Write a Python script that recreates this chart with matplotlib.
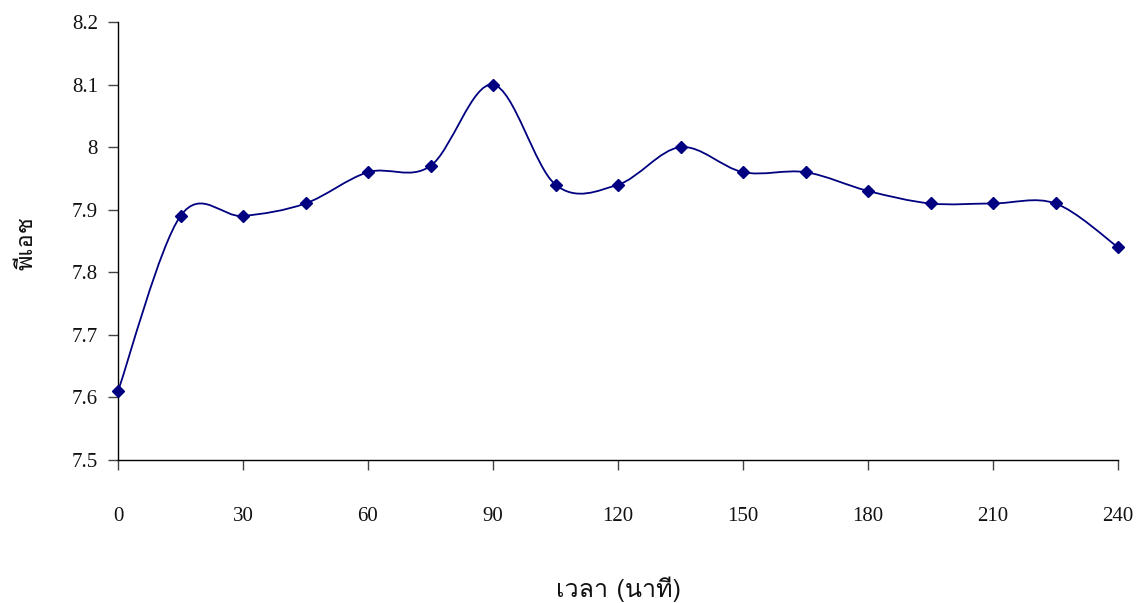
import numpy as np
import matplotlib
matplotlib.use("Agg")
import matplotlib.pyplot as plt
from matplotlib.path import Path
from matplotlib.patches import PathPatch
from matplotlib import font_manager
from matplotlib.ft2font import FT2Font

# ---- data ----
time_min = [0, 15, 30, 45, 60, 75, 90, 105, 120, 135, 150, 165, 180, 195, 210, 225, 240]
ph = [7.61, 7.89, 7.89, 7.91, 7.96, 7.97, 8.10, 7.94, 7.94, 8.00, 7.96, 7.96, 7.93, 7.91, 7.91, 7.91, 7.84]
x_ticks = [0, 30, 60, 90, 120, 150, 180, 210, 240]
y_ticks = [7.5, 7.6, 7.7, 7.8, 7.9, 8.0, 8.1, 8.2]
y_ticklabels = ["7.5", "7.6", "7.7", "7.8", "7.9", "8", "8.1", "8.2"]
x_label = "เวลา (นาที)"
y_label = "พีเอช"

# find a font that has Thai glyphs
thai_fams = []
for f in font_manager.fontManager.ttflist:
    try:
        cm = FT2Font(f.fname).get_charmap()
        if 0x0E1E in cm and 0x0E40 in cm:
            if f.name not in thai_fams:
                thai_fams.append(f.name)
    except Exception:
        pass
thai_family = thai_fams + ["DejaVu Sans"]

serif = "Liberation Serif"
line_color = "#000080"

fig = plt.figure(figsize=(11.41, 6.03), dpi=100)
ax = fig.add_axes([118/1141, 1-460/603, (1118-118)/1141, (460-22)/603])

# Excel-style smoothed line (Catmull-Rom as cubic Bezier)
xs = np.array(time_min, float)
ys = np.array(ph, float)
P = np.column_stack([xs, ys])
Pe = np.vstack([P[0], P, P[-1]])
verts = [tuple(P[0])]
codes = [Path.MOVETO]
for i in range(1, len(Pe) - 2):
    p0, p1, p2, p3 = Pe[i-1], Pe[i], Pe[i+1], Pe[i+2]
    c1 = p1 + (p2 - p0) / 6.0
    c2 = p2 - (p3 - p1) / 6.0
    verts += [tuple(c1), tuple(c2), tuple(p2)]
    codes += [Path.CURVE4] * 3
ax.add_patch(PathPatch(Path(verts, codes), facecolor="none", edgecolor=line_color, lw=1.3, zorder=2))
ax.plot(time_min, ph, linestyle="none", marker="D", markersize=6.5, color=line_color, zorder=3, clip_on=False)

ax.set_xlim(0, 240)
ax.set_ylim(7.5, 8.2)
ax.set_xticks(x_ticks)
ax.set_yticks(y_ticks)
ax.set_yticklabels(y_ticklabels)
for s in ["top", "right"]:
    ax.spines[s].set_visible(False)
for s in ["left", "bottom"]:
    ax.spines[s].set_linewidth(1.0)
    ax.spines[s].set_color("black")
ax.tick_params(axis="both", direction="out", length=7, width=1.0, color="#444444")
ax.tick_params(axis="x", pad=27)
ax.tick_params(axis="y", pad=7.5)
for lab in ax.get_xticklabels() + ax.get_yticklabels():
    lab.set_fontfamily(serif)
    lab.set_fontsize(15)
    lab.set_color("#111111")

fig.text(619/1141, 1-589/603, x_label, ha="center", va="center", fontsize=18, family=thai_family, color="#111111")
fig.text(26/1141, 1-243/603, y_label, ha="center", va="center", fontsize=17, family=thai_family, rotation=90, color="#111111")

fig.savefig("out.png", dpi=100)
